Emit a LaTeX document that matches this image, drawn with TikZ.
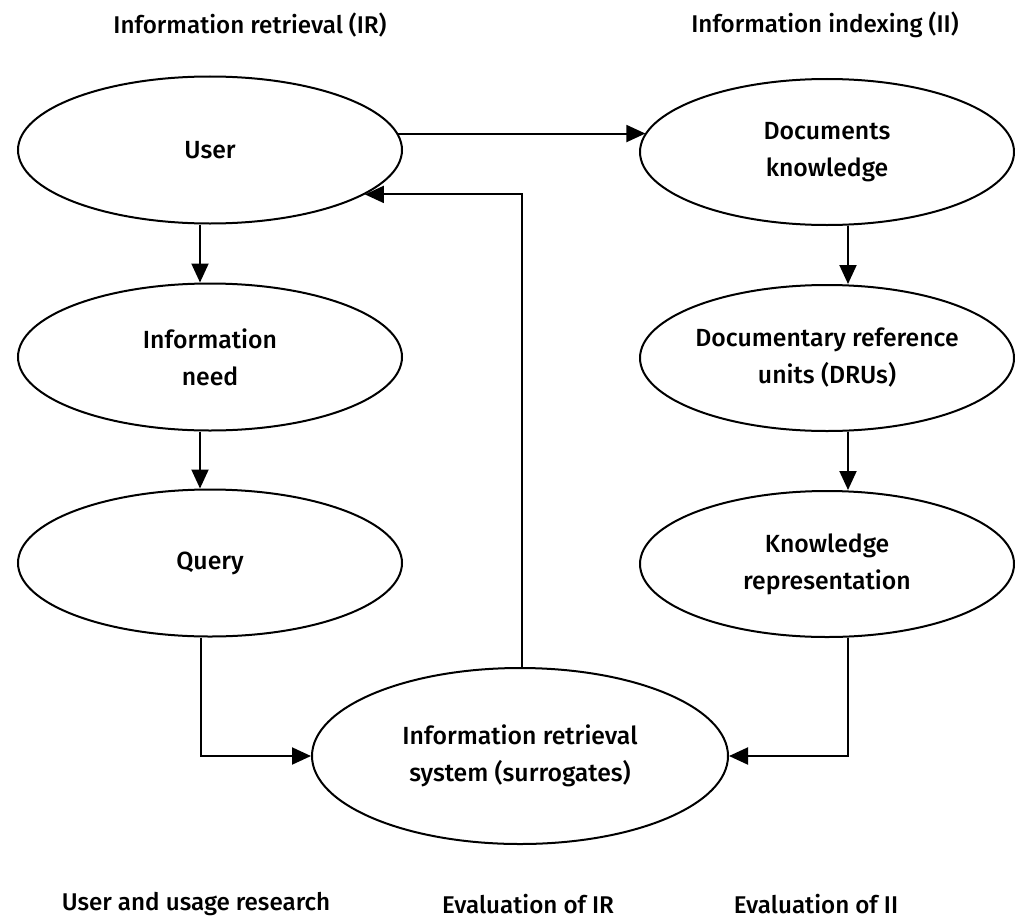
\documentclass[tikz,border=0pt]{standalone}
\usepackage{fontspec}
\setmainfont{Fira Sans}[UprightFont=* Medium]
\usetikzlibrary{arrows.meta,shapes.geometric}

\begin{document}
\begin{tikzpicture}[x=0.5pt, y=-0.5pt, >={Triangle[length=9.5pt,width=8.5pt]},
    bubble/.style={ellipse, draw, line width=1pt, align=center,
      font=\fontsize{12.4}{18.5}\selectfont, inner sep=0pt},
    leftbubble/.style={bubble, minimum width=192pt, minimum height=73.5pt},
    rightbubble/.style={bubble, minimum width=187pt, minimum height=73pt},
    heading/.style={font=\fontsize{12.1}{14}\selectfont},
    flow/.style={->, line width=1pt}]
  \useasboundingbox (0,0) rectangle (1015,920);
  % --- headings ---
  \node[heading] (irhead) at (250,25) {Information retrieval (IR)};
  \node[heading] (iihead) at (825,25) {Information indexing (II)};
  % --- IR column ---
  \node[leftbubble] (user) at (210,150) {User};
  \node[leftbubble] (need) at (210,357) {Information\\need};
  \node[leftbubble] (query) at (210,563) {Query};
  % --- II column ---
  \node[rightbubble] (docs) at (827,152) {Documents\\knowledge};
  \node[rightbubble] (dru) at (827,358) {Documentary reference\\units (DRUs)};
  \node[rightbubble] (krep) at (827,564) {Knowledge\\representation};
  % --- system ---
  \node[bubble, minimum width=208pt, minimum height=88pt] (irs) at (520,756)
    {Information retrieval\\system (surrogates)};
  % --- connectors ---
  \draw[flow] (user.5) -- (docs.174 |- user.5);
  \draw[flow] ([xshift=1pt]irs.north) |- (user.-16.5);
  \draw[flow] ([xshift=-5pt]user.south) -- ([xshift=-5pt]need.north);
  \draw[flow] ([xshift=-5pt]need.south) -- ([xshift=-5pt]query.north);
  \draw[flow] ([xshift=-4.5pt]query.south) |- (irs.west);
  \draw[flow] ([xshift=10.5pt]docs.south) -- ([xshift=10.5pt]dru.north);
  \draw[flow] ([xshift=10.5pt]dru.south) -- ([xshift=10.5pt]krep.north);
  \draw[flow] ([xshift=10.5pt]krep.south) |- (irs.east);
  % --- bottom captions ---
  \node[heading] (usage) at (196,904) {User and usage research};
  \node[heading] (evalir) at (528,904) {Evaluation of IR};
  \node[heading] (evalii) at (816,904) {Evaluation of II};
\end{tikzpicture}
\end{document}
